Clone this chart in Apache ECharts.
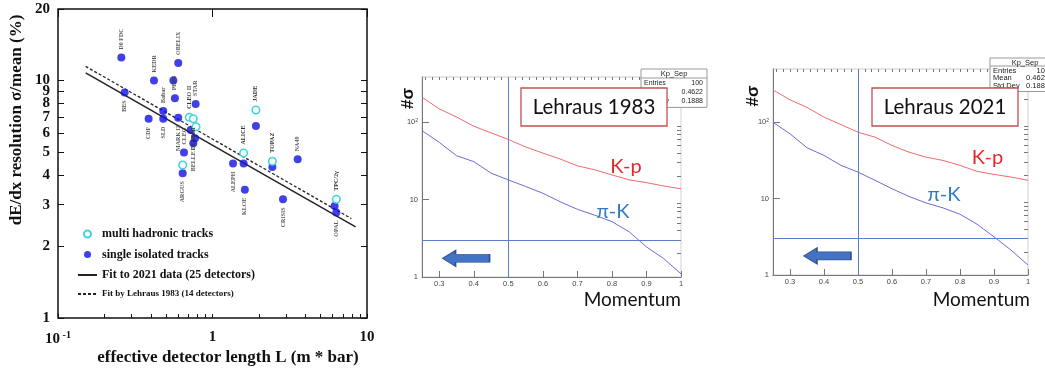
<!DOCTYPE html>
<html>
<head>
<meta charset="utf-8">
<script src="https://cdn.jsdelivr.net/npm/echarts@6/dist/echarts.min.js"></script>
<style>
html, body { margin: 0; padding: 0; background: #fff; }
#main { width: 1045px; height: 373px; }
</style>
</head>
<body>
<div id="main"></div>
<script>
// ---- left panel: dE/dx resolution vs effective detector length ----
var singleL   = [0.257, 0.27, 0.386, 0.418, 0.48, 0.48, 0.558, 0.571, 0.60, 0.60, 0.654, 0.641, 0.722, 0.751, 0.771, 0.778, 1.358, 1.59, 1.62, 1.91, 2.44, 2.86, 3.56, 6.17, 6.33];
var singleRes = [12.5, 8.9, 6.9, 10, 7.44, 6.9, 10, 8.41, 11.85, 6.97, 4.97, 4.07, 6.19, 5.44, 5.71, 7.96, 4.47, 4.47, 3.47, 6.43, 4.32, 3.16, 4.66, 2.96, 2.78];
var singleName = ['D0 FDC', 'BES', 'CDF', 'KEDR', 'Babar', 'SLD', '', 'PEP4', 'OBELIX', 'MARK II', 'CLEO', 'ARGUS', '', 'BELLE', '', 'STAR', 'ALEPH', '', 'KLOE', '', '', 'CRISIS', 'NA49', '', 'OPAL'];
var multiL   = [0.641, 0.708, 0.751, 0.782, 1.59, 1.91, 2.44, 6.33];
var multiRes = [4.41, 7.0, 6.9, 6.39, 4.95, 7.51, 4.57, 3.16];
var multiName = ['', 'CLEO II', 'DELPHI', '', 'ALICE', 'JADE', 'TOPAZ', 'TPC/2γ'];
var fit2021L = [0.151, 8.44];
var fit2021  = [10.76, 2.42];
var fit1983L = [0.151, 7.92];
var fit1983  = [11.47, 2.62];
var lenTicks  = [0.1, 0.2, 0.3, 0.4, 0.5, 0.6, 0.7, 0.8, 0.9, 1, 2, 3, 4, 5, 6, 7, 8, 9, 10];
var lenMajor  = [0.1, 1, 10];
var resTicks  = [1, 2, 3, 4, 5, 6, 7, 8, 9, 10, 20];

// ---- right panels: separation power (#sigma) vs momentum ----
var momentum = [0.25, 0.3, 0.35, 0.4, 0.45, 0.5, 0.55, 0.6, 0.65, 0.7, 0.75, 0.8, 0.85, 0.9, 0.95, 1.0];
var kp1983  = [211, 149, 117, 89, 73, 60, 48, 40, 33.5, 27.4, 24.3, 20.9, 18, 16.6, 15, 13.8];
var pik1983 = [78, 55, 37, 31, 22, 18, 14.8, 12.1, 9.4, 7.5, 6.3, 5.2, 3.84, 2.45, 1.73, 1.1];
var kp2021  = [266, 197, 157, 117, 93.5, 74.3, 64, 49.8, 40.7, 35, 31.7, 27.3, 22.8, 20.8, 19.2, 17.4];
var pik2021 = [100, 70.8, 46.4, 36.9, 27.3, 22.3, 17.4, 13.5, 10.7, 8.8, 7.57, 6.25, 4.63, 3.16, 2.12, 1.35];
var momTicks = [0.3, 0.4, 0.5, 0.6, 0.7, 0.8, 0.9, 1];
var sigmaTicks = [1, 10, 100];
var sigmaMinor = [2, 3, 4, 5, 6, 7, 8, 9, 20, 30, 40, 50, 60, 70, 80, 90, 200, 300, 400, 500];
var sepLevel = 3;   // 3 sigma line
var momCut = 0.5;   // momentum line
var stats = [['Entries', '100'], ['Mean', '0.4622'], ['Std Dev', '0.1888']];

var momMinor = [];
for (var i = 26; i <= 100; i += 2) momMinor.push(i / 100);

var belowLabels = ['BES', 'CDF', 'SLD', 'MARK II', 'ARGUS', 'BELLE', 'ALEPH', 'KLOE', 'CRISIS', 'OPAL', 'DELPHI'];
var serif = 'Liberation Serif';
var sans = 'Liberation Sans';

function detPoints(xs, ys, names) {
	return xs.map(function(x, i) {
		var below = belowLabels.indexOf(names[i]) >= 0;
		return {
			value: [x, ys[i]],
			name: names[i],
			label: { position: below ? 'bottom' : 'top', align: below ? 'right' : 'left', verticalAlign: 'middle' }
		};
	});
}
function zip(xs, ys) {
	return xs.map(function(x, i) { return [x, ys[i]]; });
}

var detLabel = {
	show: true, formatter: '{b}', rotate: 90, distance: 4,
	fontSize: 6, fontFamily: serif, fontWeight: 'bold', color: '#333'
};

// ROOT style axes for one panel
function rootX(grid, ticks, labels) {
	return {
		gridIndex: grid, type: 'value', min: 0.25, max: 1,
		axisLine: { show: labels, lineStyle: { color: '#777', width: 1 } },
		axisTick: { show: true, inside: true, length: ticks === momTicks ? 6 : 3, customValues: ticks, lineStyle: { color: '#777' } },
		axisLabel: { show: labels, customValues: momTicks, margin: 3, fontSize: 7.5, fontFamily: sans, color: '#444' },
		splitLine: { show: false }
	};
}
function rootY(grid, max, ticks, labels) {
	return {
		gridIndex: grid, type: 'log', logBase: 10, min: 1, max: max,
		axisLine: { show: labels, lineStyle: { color: '#777', width: 1 } },
		axisTick: { show: true, inside: true, length: labels ? 7 : 4, customValues: ticks, lineStyle: { color: '#777' } },
		axisLabel: {
			show: labels, customValues: sigmaTicks, margin: 4, fontSize: 7.5, fontFamily: sans, color: '#444',
			formatter: function(v) { return v >= 99 ? '10{s|2}' : String(Math.round(v)); },
			rich: { s: { fontSize: 5, fontFamily: sans, color: '#444', verticalAlign: 'top', padding: [0, 0, 4, 0] } }
		},
		splitLine: { show: false }
	};
}

var arrowPath = 'path://M0,8 L13,0 L13,4 L47,4 L47,12 L13,12 L13,16 Z';

function rootSeries(xi, kp, pik, arrowAt) {
	return [{
		type: 'line', xAxisIndex: xi, yAxisIndex: xi, data: zip(momentum, kp),
		symbol: 'none', lineStyle: { color: '#f06a6a', width: 1 }, z: 3
	}, {
		type: 'line', xAxisIndex: xi, yAxisIndex: xi, data: zip(momentum, pik),
		symbol: 'none', lineStyle: { color: '#6c6cd6', width: 1 }, z: 3,
		markLine: {
			silent: true, symbol: ['none', 'none'], label: { show: false },
			lineStyle: { color: '#5b7fc7', type: 'solid', width: 1 },
			data: [{ yAxis: sepLevel }, { xAxis: momCut }]
		},
		markPoint: {
			silent: true, symbol: arrowPath, symbolSize: [47, 16], symbolKeepAspect: false,
			label: { show: false },
			itemStyle: { color: '#4472c4', borderColor: '#2f528f', borderWidth: 1 },
			data: [{ coord: arrowAt }]
		}
	}];
}

function statBox(x, y, w, rowH, titleH, valRight, fs) {
	var els = [{
		type: 'rect', z: 100, shape: { x: x, y: y, width: w, height: titleH + rowH * 3 + 3 },
		style: { fill: '#fff', stroke: '#999', lineWidth: 1 }
	}, {
		type: 'line', z: 101, shape: { x1: x, y1: y + titleH, x2: x + w, y2: y + titleH },
		style: { stroke: '#999', lineWidth: 1 }
	}, {
		type: 'text', z: 101, x: x + w / 2, y: y + titleH / 2 + 0.5,
		style: { text: 'Kp_Sep', font: '7.5px ' + sans, fill: '#222', align: 'center', verticalAlign: 'middle' }
	}];
	stats.forEach(function(r, k) {
		var ry = y + titleH + rowH * (k + 0.5) + 1;
		els.push({ type: 'text', z: 101, x: x + 3, y: ry,
			style: { text: r[0], font: fs + 'px ' + sans, fill: '#222', align: 'left', verticalAlign: 'middle' } });
		els.push({ type: 'text', z: 101, x: valRight, y: ry,
			style: { text: r[1], font: fs + 'px ' + sans, fill: '#222', align: 'right', verticalAlign: 'middle' } });
	});
	return els;
}
function labelBox(x, y, text) {
	return [{
		type: 'rect', z: 110, shape: { x: x, y: y, width: 146, height: 38 },
		style: { fill: '#fff', stroke: '#c0504d', lineWidth: 1.3 }
	}, {
		type: 'text', z: 111, x: x + 73, y: y + 19,
		style: { text: text, font: '20.5px Lato', fill: '#111', align: 'center', verticalAlign: 'middle' }
	}];
}
function txt(x, y, text, font, fill, align, rot) {
	return { type: 'text', z: 105, x: x, y: y, rotation: rot || 0,
		style: { text: text, font: font, fill: fill, align: align || 'center', verticalAlign: 'middle' } };
}

var chart = echarts.init(document.getElementById('main'));
var option = {
	animation: false,
	backgroundColor: '#fff',
	grid: [
		{ left: 58, top: 9, width: 309, height: 309, show: true, borderColor: '#111', borderWidth: 1.5, backgroundColor: '#fff' },
		{ left: 422, top: 77, width: 259, height: 200, show: true, borderColor: '#cfcfcf', borderWidth: 1 },
		{ left: 773, top: 69, width: 255, height: 206, show: true, borderColor: '#cfcfcf', borderWidth: 1 }
	],
	xAxis: [
		{
			gridIndex: 0, type: 'log', logBase: 10, min: 0.1, max: 10,
			axisLine: { show: false },
			axisTick: { inside: true, length: 4, customValues: lenTicks, lineStyle: { color: '#111', width: 1 } },
			axisLabel: {
				customValues: lenMajor, margin: 12, fontSize: 15, fontFamily: serif, fontWeight: 'bold', color: '#111',
				formatter: function(v) { return v < 0.5 ? '10{s| -1}' : String(Math.round(v)); },
				rich: { s: { fontSize: 10, fontFamily: serif, fontWeight: 'bold', color: '#111', verticalAlign: 'top', padding: [0, 0, 9, 0] } }
			},
			splitLine: { show: false }
		},
		{
			gridIndex: 0, type: 'log', logBase: 10, min: 0.1, max: 10,
			axisLine: { show: false }, axisLabel: { show: false }, splitLine: { show: false },
			axisTick: { inside: true, length: 8, customValues: lenMajor, lineStyle: { color: '#111', width: 1 } }
		},
		rootX(1, momTicks, true),
		rootX(1, momMinor, false),
		rootX(2, momTicks, true),
		rootX(2, momMinor, false)
	],
	yAxis: [
		{
			gridIndex: 0, type: 'log', logBase: 10, min: 1, max: 20,
			axisLine: { show: false },
			axisTick: { inside: true, length: 6, customValues: resTicks, lineStyle: { color: '#111', width: 1 } },
			axisLabel: { customValues: resTicks, margin: 8, fontSize: 15, fontFamily: serif, fontWeight: 'bold', color: '#111' },
			splitLine: { show: false }
		},
		{
			gridIndex: 0, type: 'log', logBase: 10, min: 1, max: 20, position: 'right',
			axisLine: { show: false }, axisLabel: { show: false }, splitLine: { show: false },
			axisTick: { inside: true, length: 6, customValues: resTicks, lineStyle: { color: '#111', width: 1 } }
		},
		rootY(1, 385, sigmaTicks, true),
		rootY(1, 385, sigmaMinor.filter(function(v) { return v < 385; }), false),
		rootY(2, 500, sigmaTicks, true),
		rootY(2, 500, sigmaMinor, false)
	],
	legend: {
		orient: 'vertical', left: 72, top: 223, itemGap: 8.5, itemWidth: 19, itemHeight: 7,
		textStyle: { fontFamily: serif, fontWeight: 'bold', fontSize: 12, color: '#111' },
		data: [
			{ name: 'multi hadronic tracks' },
			{ name: 'single isolated tracks' },
			{ name: 'Fit to 2021 data (25 detectors)', itemStyle: { opacity: 0 } },
			{ name: 'Fit by Lehraus 1983 (14 detectors)', itemStyle: { opacity: 0 }, textStyle: { fontSize: 9, padding: [3, 0, 0, 0] } }
		]
	},
	series: [
		{
			name: 'single isolated tracks', type: 'scatter', xAxisIndex: 0, yAxisIndex: 0,
			symbol: 'circle', symbolSize: 8, itemStyle: { color: '#1010e0' },
			label: detLabel, data: detPoints(singleL, singleRes, singleName), z: 4
		},
		{
			name: 'multi hadronic tracks', type: 'scatter', xAxisIndex: 0, yAxisIndex: 0,
			symbol: 'circle', symbolSize: 7.5, itemStyle: { color: '#fff', borderColor: '#3fd6de', borderWidth: 1.6, opacity: 1 },
			label: detLabel, data: detPoints(multiL, multiRes, multiName), z: 5
		},
		{
			name: 'Fit to 2021 data (25 detectors)', type: 'line', xAxisIndex: 0, yAxisIndex: 0,
			symbol: 'none', data: zip(fit2021L, fit2021), itemStyle: { color: '#222' },
			lineStyle: { color: '#222', width: 1.5 }, z: 3
		},
		{
			name: 'Fit by Lehraus 1983 (14 detectors)', type: 'line', xAxisIndex: 0, yAxisIndex: 0,
			symbol: 'none', data: zip(fit1983L, fit1983), itemStyle: { color: '#222' },
			lineStyle: { color: '#222', width: 1.3, type: [3, 2] }, z: 3
		}
	].concat(rootSeries(2, kp1983, pik1983, [0.3775, 1.745]))
	 .concat(rootSeries(4, kp2021, pik2021, [0.41, 1.78])),
	graphic: [
		txt(17, 120, 'dE/dx resolution σ/mean (%)', 'bold 17px ' + serif, '#111', 'center', Math.PI / 2),
		txt(228, 358, 'effective detector length L (m * bar)', 'bold 17px ' + serif, '#111'),
		txt(408, 98.5, '#σ', 'bold 17px ' + sans, '#111', 'center', Math.PI / 2),
		txt(753.5, 96, '#σ', 'bold 17px ' + sans, '#111', 'center', Math.PI / 2),
		txt(681, 300, 'Momentum', '19px Lato', '#111', 'right'),
		txt(1030, 300, 'Momentum', '19px Lato', '#111', 'right'),
		txt(626, 166.5, 'K-p', '20px Lato', '#e8262a'),
		txt(613, 211.5, 'π-K', '20px Lato', '#2e7bc4'),
		txt(987.5, 158, 'K-p', '20px Lato', '#e8262a'),
		txt(944, 195, 'π-K', '20px Lato', '#2e7bc4')
	].concat(statBox(641, 69, 66, 8.8, 9, 703, 7))
	 .concat(statBox(990, 58, 70, 7.5, 8, 1049, 7.5))
	 .concat(labelBox(521, 88, 'Lehraus 1983'))
	 .concat(labelBox(872, 88, 'Lehraus 2021'))
};
chart.setOption(option);
</script>
</body>
</html>
